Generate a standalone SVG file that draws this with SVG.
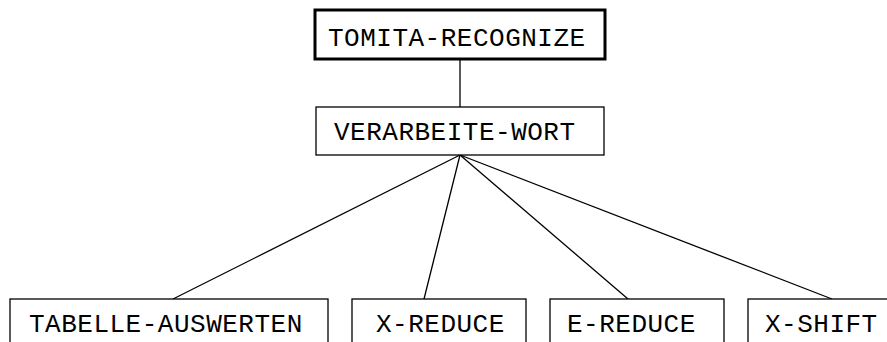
<svg xmlns="http://www.w3.org/2000/svg" width="887" height="342" viewBox="0 0 887 342">
<style>
.node rect{fill:#fff;stroke:#000;stroke-width:1.3}
.node rect.root{stroke-width:3}
text{font-family:"Nimbus Mono PS","Courier New",Courier,"Liberation Mono",monospace;font-size:26px;letter-spacing:0.5px;fill:#000}
#connectors line{stroke:#000;stroke-width:1.3}
</style>
<rect width="887" height="342" fill="#fff"/>
<g id="connectors">
<line x1="460" y1="59" x2="460" y2="107"/>
<line x1="460" y1="155" x2="173" y2="299"/>
<line x1="460" y1="155" x2="424" y2="299"/>
<line x1="460" y1="155" x2="628" y2="299"/>
<line x1="460" y1="155" x2="832" y2="299"/>
</g>
<g id="tomita-recognize" class="node"><rect class="root" x="315" y="10" width="290" height="49"/><text x="328" y="46">TOMITA-RECOGNIZE</text></g>
<g id="verarbeite-wort" class="node"><rect x="316" y="107" width="288" height="48"/><text x="334" y="140">VERARBEITE-WORT</text></g>
<g id="tabelle-auswerten" class="node"><rect x="10" y="299" width="318" height="60"/><text x="29" y="332">TABELLE-AUSWERTEN</text></g>
<g id="x-reduce" class="node"><rect x="352" y="299" width="174" height="60"/><text x="376" y="332">X-REDUCE</text></g>
<g id="e-reduce" class="node"><rect x="550" y="299" width="174" height="60"/><text x="567" y="332">E-REDUCE</text></g>
<g id="x-shift" class="node"><rect x="748" y="299" width="160" height="60"/><text x="765" y="332">X-SHIFT</text></g>
</svg>
